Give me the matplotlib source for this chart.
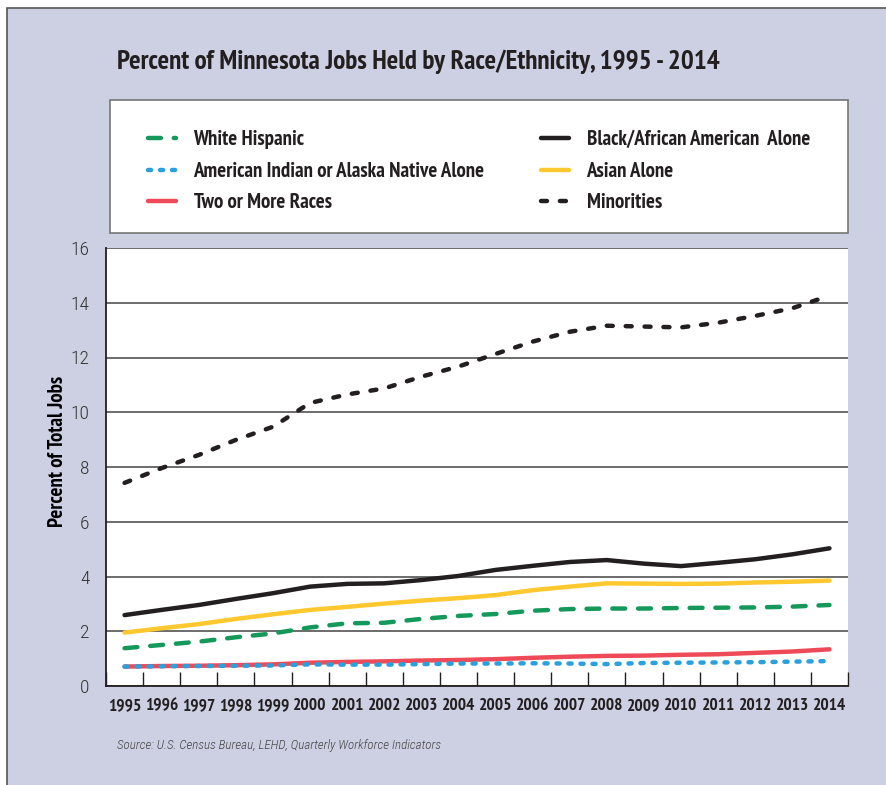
import matplotlib
matplotlib.use("Agg")
import matplotlib.pyplot as plt
from matplotlib.patches import Rectangle

NARROW = ['PT Sans Narrow', 'DejaVu Sans']
LIGHT = ['Roboto Condensed', 'DejaVu Sans']
plt.rcParams['font.family'] = NARROW

years = list(range(1995, 2015))
white_hispanic = [1.38, 1.50, 1.62, 1.78, 1.92, 2.14, 2.29, 2.31, 2.45, 2.56,
                  2.63, 2.75, 2.81, 2.83, 2.83, 2.85, 2.86, 2.87, 2.90, 2.96]
black_alone = [2.59, 2.78, 2.96, 3.18, 3.39, 3.63, 3.73, 3.75, 3.87, 4.02,
               4.24, 4.39, 4.53, 4.60, 4.47, 4.38, 4.50, 4.63, 4.81, 5.03]
am_indian = [0.71, 0.72, 0.73, 0.74, 0.75, 0.79, 0.78, 0.78, 0.80, 0.82,
             0.82, 0.83, 0.82, 0.80, 0.84, 0.85, 0.86, 0.87, 0.89, 0.91]
asian_alone = [1.95, 2.11, 2.26, 2.45, 2.62, 2.78, 2.89, 3.01, 3.12, 3.21,
               3.32, 3.50, 3.63, 3.75, 3.74, 3.73, 3.74, 3.78, 3.81, 3.85]
two_or_more = [0.71, 0.73, 0.74, 0.76, 0.79, 0.85, 0.88, 0.90, 0.93, 0.95,
               0.98, 1.03, 1.07, 1.10, 1.11, 1.14, 1.16, 1.21, 1.26, 1.34]
minorities = [7.42, 7.96, 8.44, 8.99, 9.47, 10.34, 10.65, 10.87, 11.30, 11.67,
              12.13, 12.58, 12.94, 13.16, 13.13, 13.10, 13.27, 13.52, 13.80, 14.26]

W, H = 886, 785
fig = plt.figure(figsize=(W / 100, H / 100), dpi=100)
fig.patch.set_facecolor('white')

# lavender panel with thin frame
fig.patches.append(Rectangle((7 / W, -0.01), 1.0, (H - 8) / H + 0.01, transform=fig.transFigure,
                             facecolor='#cdd0e3', edgecolor='#555555', linewidth=1.2, zorder=-10))
# white legend box
fig.patches.append(Rectangle((110 / W, (H - 233) / H), 738 / W, 133 / H, transform=fig.transFigure,
                             facecolor='white', edgecolor='#777777', linewidth=1.2, zorder=-5))

ax = fig.add_axes([106 / W, (H - 686) / H, 742 / W, 438 / H])
ax.set_facecolor('white')
x = list(range(len(years)))

l_wh, = ax.plot(x, white_hispanic, color='#14995a', lw=3.2, dashes=(2.9, 2.9),
                dash_capstyle='round', label='White Hispanic')
l_ai, = ax.plot(x, am_indian, color='#2aa0dc', lw=3.2, dashes=(0.7, 2.0),
                dash_capstyle='round', label='American Indian or Alaska Native Alone', zorder=3)
l_two, = ax.plot(x, two_or_more, color='#ee4a58', lw=3.2, solid_capstyle='round',
                 label='Two or More Races')
l_bl, = ax.plot(x, black_alone, color='#231f20', lw=3.2, solid_capstyle='round',
                label='Black/African American  Alone')
l_as, = ax.plot(x, asian_alone, color='#ffc82e', lw=3.2, solid_capstyle='round',
                label='Asian Alone')
l_mi, = ax.plot(x, minorities, color='#231f20', lw=3.2, dashes=(1.35, 2.9),
                dash_capstyle='round', label='Minorities')

ax.set_xlim(-0.5, len(years) - 0.5)
ax.set_ylim(0, 16)
ax.set_yticks(range(0, 17, 2))
ax.yaxis.grid(True, color='#444444', lw=1.1)
ax.set_axisbelow(True)
ax.tick_params(axis='y', length=0, pad=12, labelsize=14, labelcolor='#333333')
for t in ax.get_yticklabels():
    t.set_family(LIGHT)
    t.set_fontweight(300)

ax.set_xticks(x)
ax.set_xticklabels(years, fontweight='bold', fontsize=12.5, color='#231f20')
ax.tick_params(axis='x', which='major', length=0, pad=9)
ax.set_xticks([i - 0.5 for i in range(len(years) + 1)], minor=True)
ax.tick_params(axis='x', which='minor', direction='in', length=10, width=1, color='#231f20')

for s in ['top', 'right']:
    ax.spines[s].set_visible(False)
for s in ['left', 'bottom']:
    ax.spines[s].set_color('#231f20')
    ax.spines[s].set_linewidth(1.3)

ax.set_ylabel('Percent of Total Jobs', fontweight='bold', fontsize=15)
ax.yaxis.set_label_coords(-0.053, 0.535)

fig.text(117 / W, 1 - 62 / H, 'Percent of Minnesota Jobs Held by Race/Ethnicity, 1995 - 2014',
         fontsize=19.5, fontweight='bold', color='#231f20', va='center', ha='left')
fig.text(117 / W, 1 - 746 / H, 'Source: U.S. Census Bureau, LEHD, Quarterly Workforce Indicators',
         fontsize=9.4, fontstyle='italic', fontweight=300, family=LIGHT,
         color='#444444', va='center', ha='left')

leg_kw = dict(loc='upper left', frameon=False, handlelength=1.35, handletextpad=0.82,
              labelspacing=0.6, prop=dict(weight='bold', size=15), borderaxespad=0)
leg1 = fig.legend(handles=[l_wh, l_ai, l_two], bbox_to_anchor=(140 / W, 1 - 122 / H), **leg_kw)
leg2 = fig.legend(handles=[l_bl, l_as, l_mi], bbox_to_anchor=(533 / W, 1 - 122 / H), **leg_kw)
for leg in (leg1, leg2):
    for t in leg.get_texts():
        t.set_color('#231f20')

fig.savefig('out.png', dpi=100)
